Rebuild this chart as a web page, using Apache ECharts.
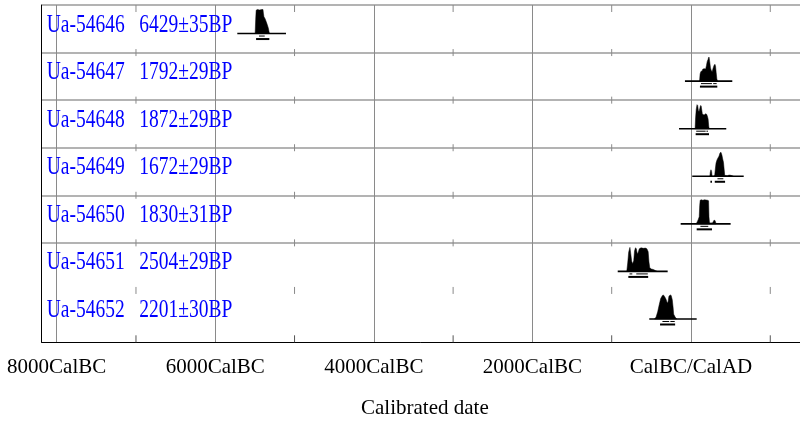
<!DOCTYPE html>
<html>
<head>
<meta charset="utf-8">
<script src="https://cdn.jsdelivr.net/npm/echarts@6/dist/echarts.min.js"></script>
<style>
html,body{margin:0;padding:0;background:#fff;}
#chart{width:800px;height:428px;}
</style>
</head>
<body>
<div id="chart"></div>
<script>
// ---- data ----
const X_MIN = -8189;
const X_MAX = 1375;
const majorTicks = [-8000, -6000, -4000, -2000, 0];
const majorLabels = ['8000CalBC', '6000CalBC', '4000CalBC', '2000CalBC', 'CalBC/CalAD'];
const minorTicks = [-7000, -5000, -3000, -1000, 1000];
const axisTitle = 'Calibrated date';

const sampleIds = ['Ua-54646', 'Ua-54647', 'Ua-54648', 'Ua-54649', 'Ua-54650', 'Ua-54651', 'Ua-54652'];
const bpDates = ['6429±35BP', '1792±29BP', '1872±29BP', '1672±29BP', '1830±31BP', '2504±29BP', '2201±30BP'];

// plotted range of each distribution (cal years, BC negative)
const plotRanges = [[-5722, -5108], [-76, 521], [-151, 445], [16, 665], [-130, 500], [-924, -294], [-526, 72]];

// probability profiles: [cal year, relative probability]
const profiles = [
  [[-5497,0],[-5490,0.6],[-5484,0.97],[-5470,1.0],[-5440,0.98],[-5415,1.0],[-5398,1.0],[-5393,0.85],[-5386,0.7],[-5372,0.62],[-5358,0.5],[-5343,0.36],[-5330,0.22],[-5322,0.08],[-5316,0]],
  [[108,0],[115,0.3],[125,0.4],[140,0.42],[150,0.5],[170,0.52],[185,0.5],[195,0.65],[205,0.82],[215,0.9],[222,0.98],[228,1.0],[236,0.82],[246,0.55],[258,0.42],[268,0.4],[280,0.55],[292,0.66],[302,0.7],[310,0.62],[318,0.35],[326,0.1],[334,0]],
  [[52,0],[58,0.45],[66,0.8],[76,1.0],[84,0.97],[94,0.75],[102,0.72],[112,0.85],[120,0.96],[128,0.95],[136,0.78],[143,0.62],[155,0.58],[170,0.58],[185,0.62],[197,0.6],[207,0.52],[216,0.4],[224,0.1],[230,0]],
  [[238,0],[244,0.18],[252,0.27],[260,0.2],[266,0],[292,0],[300,0.06],[307,0.3],[316,0.55],[328,0.68],[342,0.77],[354,0.84],[366,0.97],[378,1.0],[390,0.88],[400,0.72],[410,0.58],[418,0.3],[426,0.03],[460,0.02],[480,0.05],[500,0.04],[520,0.02],[535,0]],
  [[66,0],[78,0.08],[92,0.18],[104,0.3],[110,0.75],[116,0.98],[130,1.0],[150,0.98],[170,1.0],[190,0.99],[210,0.98],[222,0.96],[227,0.3],[233,0.06],[250,0.03],[275,0.05],[288,0.14],[300,0.15],[308,0.1],[316,0]],
  [[-810,0],[-798,0.35],[-786,0.8],[-770,1.0],[-760,0.75],[-748,0.42],[-735,0.32],[-722,0.45],[-712,0.85],[-700,0.98],[-690,0.95],[-678,0.74],[-665,0.8],[-652,0.94],[-630,0.98],[-600,0.96],[-575,0.97],[-556,0.94],[-540,0.82],[-530,0.4],[-520,0.15],[-500,0.1],[-475,0.08],[-450,0.04],[-425,0]],
  [[-460,0],[-440,0.08],[-420,0.3],[-400,0.6],[-382,0.85],[-360,0.98],[-348,1.0],[-330,0.92],[-315,0.82],[-300,0.68],[-290,0.7],[-278,0.95],[-262,1.0],[-250,0.98],[-236,0.8],[-226,0.5],[-218,0.2],[-200,0.08],[-180,0]]
];

// highest posterior density ranges
const hpd68 = [
  [[-5448,-5376]],
  [[126,264],[280,324]],
  [[66,185],[195,215]],
  [[334,408]],
  [[119,218]],
  [[-775,-740],[-690,-545]],
  [[-360,-275],[-260,-205]]
];
const hpd95 = [
  [[-5485,-5318]],
  [[113,332]],
  [[59,227]],
  [[245,265],[300,430]],
  [[72,265]],
  [[-790,-540]],
  [[-390,-200]]
];

const rowLines = [0, 1, 2, 3, 4, 5, 6];

// ---- layout constants ----
const Y_MAX = 7.09;
const BASE_OFF = 0.6;
const PEAK_H = 0.505;
const FONT = '"Liberation Serif","Times New Roman",serif';

const chart = echarts.init(document.getElementById('chart'), null, {renderer: 'canvas'});

function renderSample(params, api) {
  const i = params.dataIndex;
  const yb = i + BASE_OFF;
  const children = [];
  const pts = profiles[i].map(function (p) { return api.coord([p[0], yb - p[1] * PEAK_H]); });
  children.push({type: 'polygon', shape: {points: pts}, style: {fill: '#000', stroke: '#000', lineWidth: 0.5}});
  const b0 = api.coord([plotRanges[i][0], yb]);
  const b1 = api.coord([plotRanges[i][1], yb]);
  children.push({type: 'line', shape: {x1: b0[0], y1: b0[1], x2: b1[0], y2: b1[1]}, style: {stroke: '#000', lineWidth: 1.6}});
  hpd68[i].forEach(function (r) {
    const p = api.coord([r[0], yb]), q = api.coord([r[1], yb]);
    const y = p[1] + 2.5;
    children.push({type: 'line', shape: {x1: p[0], y1: y, x2: q[0], y2: y}, style: {stroke: '#000', lineWidth: 1}});
  });
  hpd95[i].forEach(function (r) {
    const p = api.coord([r[0], yb]), q = api.coord([r[1], yb]);
    const y = p[1] + 5.5;
    children.push({type: 'line', shape: {x1: p[0], y1: y, x2: q[0], y2: y}, style: {stroke: '#000', lineWidth: 2}});
  });
  const tl = api.coord([X_MIN, i]);
  children.push({
    type: 'text', x: tl[0] + 5, y: tl[1] + 19.8, scaleX: 0.75,
    style: {text: sampleIds[i] + '   ' + bpDates[i], font: '26px ' + FONT, fill: '#0000ff', align: 'left', verticalAlign: 'middle'}
  });
  return {type: 'group', children: children};
}

function renderTicks(params, api) {
  const idx = params.dataIndex;
  const v = api.value(1);
  const children = [];
  minorTicks.forEach(function (t) {
    const p = api.coord([t, v]);
    let up = 3.5, down = 3.5;
    if (idx === 0) { up = 0; down = 7; }
    children.push({type: 'line', shape: {x1: p[0], y1: p[1] - up, x2: p[0], y2: p[1] + down}, style: {stroke: '#8a8a8a', lineWidth: 1}});
  });
  return {type: 'group', children: children};
}

const option = {
  animation: false,
  backgroundColor: '#fff',
  grid: {left: 41.7, top: 5, right: 0, bottom: 85.7, containLabel: false, outerBoundsMode: 'none'},
  xAxis: [{
    type: 'value', min: X_MIN, max: X_MAX, position: 'bottom',
    axisLine: {show: true, onZero: false, lineStyle: {color: '#000', width: 1}},
    axisTick: {show: false, customValues: majorTicks},
    axisLabel: {
      customValues: majorTicks, margin: 15, fontSize: 21, fontFamily: FONT, color: '#000',
      formatter: function (v) { const k = majorTicks.indexOf(v); return k >= 0 ? majorLabels[k] : ''; }
    },
    splitLine: {show: true, lineStyle: {color: '#8a8a8a', width: 1}},
    name: axisTitle, nameLocation: 'middle', nameGap: 56,
    nameTextStyle: {fontSize: 21, fontFamily: FONT, color: '#000', padding: [0, 0, 0, 8]}
  }],
  yAxis: [{
    type: 'value', min: 0, max: Y_MAX, inverse: true,
    axisLine: {show: true, onZero: false, lineStyle: {color: '#000', width: 1}},
    axisTick: {show: false, customValues: rowLines},
    axisLabel: {show: false, customValues: rowLines},
    splitLine: {show: true, showMinLine: true, showMaxLine: false, lineStyle: {color: '#9a9a9a', width: 1.5}}
  }],
  series: [
    {
      type: 'custom', name: 'gridTicks', silent: true, clip: false,
      data: rowLines.map(function (r) { return [0, r]; }),
      encode: {x: 0, y: 1},
      renderItem: renderTicks, z: 1
    },
    {
      type: 'custom', name: 'bottomTicks', silent: true, clip: false,
      data: [[0, Y_MAX]],
      encode: {x: 0, y: 1},
      renderItem: function (params, api) {
        const children = minorTicks.map(function (t) {
          const p = api.coord([t, api.value(1)]);
          return {type: 'line', shape: {x1: p[0], y1: p[1] - 7, x2: p[0], y2: p[1]}, style: {stroke: '#555', lineWidth: 1}};
        });
        return {type: 'group', children: children};
      }, z: 1
    },
    {
      type: 'custom', name: 'samples', silent: true, clip: false,
      data: sampleIds.map(function (s, i) { return [plotRanges[i][0], i + BASE_OFF]; }),
      encode: {x: 0, y: 1},
      renderItem: renderSample, z: 3
    }
  ]
};
chart.setOption(option);
</script>
</body>
</html>
